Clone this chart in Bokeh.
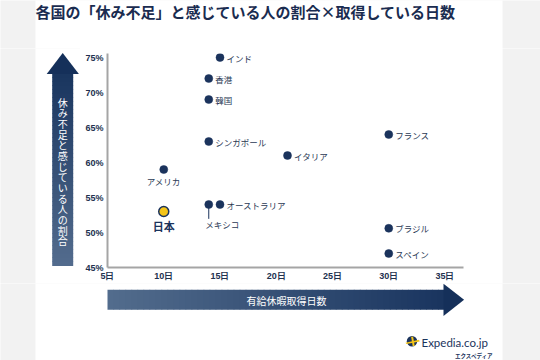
from bokeh.plotting import figure
from bokeh.layouts import column, row
from bokeh.models import FixedTicker, Range1d, ColumnDataSource
from bokeh.core.properties import value
from bokeh.embed import file_html
from bokeh.resources import INLINE
import numpy as np

# ---------------- data ----------------
countries = ["インド", "香港", "韓国", "シンガポール", "イタリア", "フランス",
             "アメリカ", "日本", "メキシコ", "オーストラリア", "ブラジル", "スペイン"]
days = [15, 14, 14, 14, 21, 30, 10, 10, 14, 15, 30, 30]
pct = [75, 72, 69, 63, 61, 64, 59, 53, 54, 54, 50.6, 47]

x_ticks = [5, 10, 15, 20, 25, 30, 35]
x_tick_labels = ["5日", "10日", "15日", "20日", "25日", "30日", "35日"]
y_ticks = [45, 50, 55, 60, 65, 70, 75]
y_tick_labels = ["45%", "50%", "55%", "60%", "65%", "70%", "75%"]

title_text = "各国の「休み不足」と感じている人の割合×取得している日数"
x_title = "有給休暇取得日数"
y_title = "休み不足と感じている人の割合"
highlight = "日本"
logo_text = "Expedia.co.jp"
logo_sub = "エクスペディア"

# ---------------- style ----------------
NAVY = "#1b335c"
JP = "Noto Sans CJK JP"
GRAY_BG = "#f2f2f2"
DARK, LIGHT = "#19355f", "#536c8d"
PANEL_L, PANEL_R = 35, 502          # white panel (page px)


def hexmix(c1, c2, t):
    a = [int(c1[i:i + 2], 16) for i in (1, 3, 5)]
    b = [int(c2[i:i + 2], 16) for i in (1, 3, 5)]
    return "#%02x%02x%02x" % tuple(int(round(a[k] + (b[k] - a[k]) * t)) for k in range(3))


def deco_fig(x0, y0, w, h):
    """A decoration figure whose ranges are page pixels (y downward)."""
    f = figure(width=w, height=h, x_range=Range1d(x0, x0 + w), y_range=Range1d(y0 + h, y0),
               min_border=0, x_axis_type=None, y_axis_type=None, toolbar_location=None,
               output_backend="svg", outline_line_color=None, frame_align=False,
               background_fill_color=GRAY_BG, border_fill_color=GRAY_BG)
    f.grid.visible = False
    f.quad(left=[PANEL_L], right=[PANEL_R], top=[y0 - 1], bottom=[y0 + h + 1],
           fill_color="white", line_color=None)
    return f


# ---- title strip ----
T = deco_fig(0, 0, 540, 48)
T.text(x=[35], y=[10.5], text=[title_text], text_align="left", text_baseline="middle",
       text_font=value(JP), text_font_size="15px", text_font_style="bold",
       text_color="#1a2c50")

# ---- left strip with vertical arrow ----
L = deco_fig(0, 48, 80, 235)
n = 48
top, bot = 73.0, 265.0
ys = np.linspace(top, bot, n + 1)
L.quad(left=51.7, right=72.7, top=ys[:-1], bottom=ys[1:] + 0.6,
       fill_color=[hexmix(DARK, LIGHT, (i + 0.5) / n) for i in range(n)], line_color=None)
L.patch(x=[62.2, 78.4, 46.2], y=[52.4, 73.6, 73.6], fill_color="#15305a", line_color=None)
L.text(x=[62.3], y=[171], text=["\n".join(y_title)], text_align="center",
       text_baseline="middle", text_font=value(JP), text_font_size="10px",
       text_line_height=0.71, text_color="white")

# ---- right strip ----
R = deco_fig(502, 48, 38, 235)

# ---- main chart ----
MW, MH = 502 - 80, 235
ML, MR, MT, MB = 27, 39, 5, 16
X0, Y0 = 5, 45
X1 = X0 + (MW - ML - MR) / 11.25
Y1 = Y0 + (MH - MT - MB) / 7.0
M = figure(width=MW, height=MH, x_range=Range1d(X0, X1), y_range=Range1d(Y0, Y1),
           output_backend="svg", toolbar_location=None, frame_align=False,
           min_border_left=ML, min_border_right=MR, min_border_top=MT, min_border_bottom=MB,
           background_fill_color="white", border_fill_color="white",
           outline_line_color=None)
M.grid.visible = False
for ax in (M.xaxis, M.yaxis):
    ax.axis_line_color = "#a5a5a5"
    ax.axis_line_width = 2
    ax.major_tick_line_color = None
    ax.minor_tick_line_color = None
    ax.major_tick_out = 0
    ax.major_tick_in = 0
    ax.minor_tick_out = 0
    ax.minor_tick_in = 0
    ax.major_label_text_font = "Liberation Sans"
    ax.major_label_text_font_style = "bold"
    ax.major_label_text_font_size = "9px"
    ax.major_label_text_color = "#22314f"
M.xaxis.ticker = FixedTicker(ticks=x_ticks)
M.xaxis.major_label_overrides = dict(zip(x_ticks, x_tick_labels))
M.xaxis.major_label_standoff = 3
M.yaxis.ticker = FixedTicker(ticks=y_ticks)
M.yaxis.major_label_overrides = dict(zip(y_ticks, y_tick_labels))
M.yaxis.major_label_standoff = 4

lab_dx, lab_dy, lab_align = [], [], []
special = {"アメリカ": (0, 11, "center"), "日本": (0, 14.5, "center"),
           "メキシコ": (-3.5, 19.5, "left")}
for c in countries:
    d = special.get(c, (6.5, 0, "left"))
    lab_dx.append(d[0]); lab_dy.append(d[1]); lab_align.append(d[2])

data = dict(x=days, y=pct, name=countries, ox=lab_dx, oy=lab_dy, al=lab_align)
idx = countries.index(highlight)
others = [i for i in range(len(countries)) if i != idx]
src_o = ColumnDataSource({k: [v[i] for i in others] for k, v in data.items()})
src_j = ColumnDataSource({k: [v[idx]] for k, v in data.items()})

mi = countries.index("メキシコ")
M.segment(x0=[days[mi]], y0=[pct[mi] - 0.5], x1=[days[mi]], y1=[pct[mi] - 2.05],
          line_color=NAVY, line_width=1)
M.scatter("x", "y", source=src_o, size=8, fill_color=NAVY, line_color=NAVY, line_width=0.5)
M.scatter("x", "y", source=src_j, size=10, fill_color="#f5c518", line_color=NAVY,
          line_width=1.5)
M.text("x", "y", text="name", source=src_o, x_offset="ox", y_offset="oy",
       text_align="al", text_baseline="middle", text_font=value(JP),
       text_font_size="8.5px", text_color="#2b3a55")
M.text("x", "y", text="name", source=src_j, x_offset="ox", y_offset="oy",
       text_align="al", text_baseline="middle", text_font=value(JP),
       text_font_size="11px", text_font_style="bold", text_color=NAVY)

# ---- bottom strip: horizontal arrow + logo ----
B = deco_fig(0, 283, 540, 77)
n = 56
xs = np.linspace(107.0, 443.5, n + 1)
B.quad(left=xs[:-1], right=xs[1:] + 0.6, top=289.3, bottom=309.3,
       fill_color=[hexmix(LIGHT, DARK, (i + 0.5) / n) for i in range(n)], line_color=None)
B.patch(x=[443, 463.6, 443], y=[283.2, 299.3, 315.4], fill_color="#15305a", line_color=None)
B.text(x=[286], y=[299.5], text=[x_title], text_align="center", text_baseline="middle",
       text_font=value(JP), text_font_size="10px", text_color="white")

B.scatter(x=[411.5], y=[340.8], size=10.5, fill_color=NAVY, line_color=None)
B.patch(x=[405, 418.5, 419.2, 406], y=[342.2, 339.3, 340.9, 343.6],
        fill_color="#f5c518", line_color=None)
B.patch(x=[410.6, 412.6, 414.2, 412.2], y=[336.2, 336.2, 345.6, 345.6],
        fill_color="#f5c518", line_color=None)
B.text(x=[421], y=[342], text=[logo_text], text_align="left", text_baseline="middle",
       text_font=value("Lato"), text_font_size="11.5px", text_color=NAVY)
B.text(x=[493], y=[355], text=[logo_sub], text_align="right", text_baseline="middle",
       text_font=value(JP), text_font_size="5.5px", text_font_style="bold",
       text_color=NAVY)

layout = column(T, row(L, M, R), B)
open("out.html", "w").write(file_html(layout, INLINE))
